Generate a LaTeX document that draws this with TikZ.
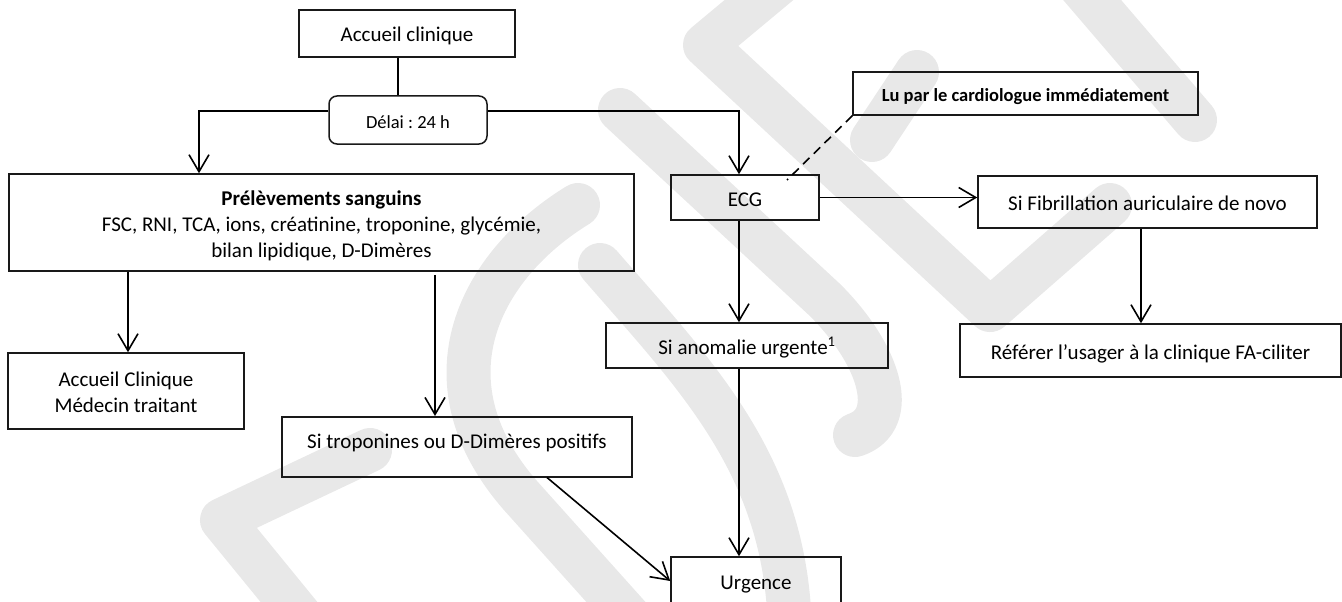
\documentclass[tikz,border=0pt]{standalone}
\usepackage{fontspec}
\setmainfont{Carlito}
\usetikzlibrary{arrows.meta,calc}
\frenchspacing
\begin{document}
\begin{tikzpicture}[x=1pt,y=-1pt,
  box/.style={draw=black!90, line width=1.5pt, inner sep=0pt, font=\fontsize{21}{26}\selectfont, align=center},
  one/.style={text height=18pt, text depth=1pt},
  small/.style={font=\fontsize{18.5}{22}\selectfont, text height=16.5pt, text depth=0pt},
  arr/.style={line width=1.6pt, -{Straight Barb[length=17pt,width=20pt]}},
  ln/.style={line width=1.6pt},
  wm/.style={line width=44pt, color=black!9, line cap=round, line join=round}
]
\useasboundingbox (0,0) rectangle (1342,602);
% watermark
\draw[wm] (795,-30) -- (705,45) -- (990,310) -- (1110,205);
\draw[wm] (1075,-20) -- (1195,120);
\draw[wm] (917,72) -- (872,140);
\draw[wm] (620,110) -- (825,300) .. controls (880,355) and (900,420) .. (855,435);
\draw[wm] (600,265) .. controls (700,380) and (790,470) .. (790,640);
\draw[wm] (578,205) .. controls (480,265) and (420,380) .. (520,495) -- (650,640);
\draw[wm] (370,450) -- (222,520) -- (320,640);
% nodes
\node[box,one,minimum width=216pt,minimum height=47pt] (acc) at (407,33.5) {Accueil clinique};
\node[box,small,rounded corners=8pt,minimum width=158pt,minimum height=48pt] (delai) at (408,120) {Délai : 24 h};
\node[box,minimum width=625pt,minimum height=97pt] (prel) at (321.5,222.5) {\rule{0pt}{22pt}\textbf{Prélèvements sanguins}\\FSC, RNI, TCA, ions, créatinine, troponine, glycémie,\\bilan lipidique, D-Dimères};
\node[box,minimum width=236pt,minimum height=76pt] (acc2) at (126,391) {\rule{0pt}{18pt}Accueil Clinique\\Médecin traitant};
\node[box,anchor=north,minimum width=350pt,text height=31.5pt,text depth=28.5pt] (tro) at (457,416) {Si troponines ou D-Dimères positifs};
\node[box,one,minimum width=148pt,minimum height=45pt] (ecg) at (745,197.5) {ECG};
\node[box,small,minimum width=345pt,minimum height=43pt,font=\bfseries\fontsize{18.5}{22}\selectfont] (lu) at (1025.5,93.5) {Lu par le cardiologue immédiatement};
\node[box,one,minimum width=339pt,minimum height=52pt] (fib) at (1147.5,202) {Si Fibrillation auriculaire de novo};
\node[box,one,minimum width=381pt,minimum height=53pt] (ref) at (1150.5,350.5) {Référer l’usager à la clinique FA-ciliter};
\node[box,one,minimum width=282pt,minimum height=45pt] (anom) at (747,345.5) {Si anomalie urgente\textsuperscript{1}};
\node[box,one,minimum width=170pt,minimum height=48pt] (urg) at (756,581) {Urgence};
% helper coordinates
\coordinate (vx) at (398,0);
\coordinate (hy) at (0,111);
\coordinate (lx) at (199,0);
\coordinate (rx) at (739,0);
\coordinate (ax) at (128,0);
\coordinate (bx) at (435,0);
\coordinate (fx) at (1141,0);
\coordinate (dend) at (787,180);
% connectors
\draw[ln] (acc.south -| vx) -- (delai.north -| vx);
\draw[arr] (delai.west |- hy) -| (lx |- prel.north);
\draw[arr] (delai.east |- hy) -| (rx |- ecg.north);
\draw[arr] (prel.south -| ax) -- (acc2.north -| ax);
\draw[arr] ($(prel.south -| bx)+(0,3)$) -- (tro.north -| bx);
\draw[ln,dash pattern=on 9pt off 6pt] (lu.south west) -- (dend);
\draw[arr] (ecg.east) -- (ecg.east -| fib.west);
\draw[arr] (fib.south -| fx) -- (ref.north -| fx);
\draw[arr] (ecg.south -| rx) -- (anom.north -| rx);
\draw[arr] (anom.south -| rx) -- (urg.north -| rx);
\draw[arr] ($(tro.south west)!0.756!(tro.south east)$) -- (urg.west);
\end{tikzpicture}
\end{document}
